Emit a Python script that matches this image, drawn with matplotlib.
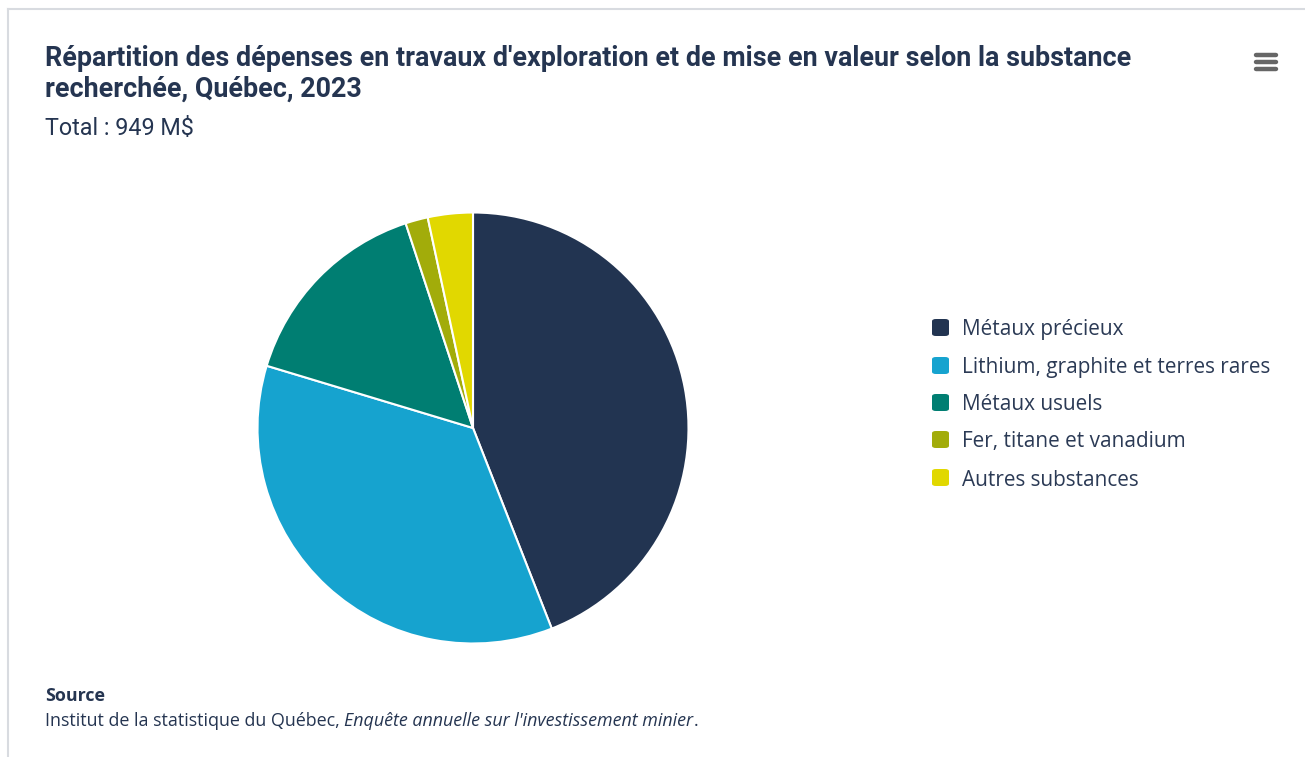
import matplotlib
matplotlib.use("Agg")
import matplotlib.pyplot as plt
from matplotlib.patches import FancyBboxPatch
from matplotlib.lines import Line2D

categories = ["Métaux précieux", "Lithium, graphite et terres rares", "Métaux usuels",
              "Fer, titane et vanadium", "Autres substances"]
values = [418, 338, 145, 16, 32]
colors = ["#223451", "#16a3cf", "#007e72", "#a2ac0a", "#e1d800"]

title_lines = ["Répartition des dépenses en travaux d'exploration et de mise en valeur selon la substance",
               "recherchée, Québec, 2023"]
subtitle = "Total : 949 M$"
source_head = "Source"

W, H = 1305, 757
fig = plt.figure(figsize=(W / 100, H / 100), dpi=100)
fig.patch.set_facecolor("white")

def fx(x):
    return x / W

def fy(y):
    return 1 - y / H

# frame border
fig.add_artist(Line2D([fx(8), fx(8)], [fy(9), 0], color="#d8dbe0", lw=1.5))
fig.add_artist(Line2D([fx(8), 1], [fy(9), fy(9)], color="#d8dbe0", lw=1.5))

# pie
cx, cy, r = 473, 428, 215.5
ax = fig.add_axes([fx(cx - r), fy(cy + r), fx(2 * r), (2 * r) / H])
ax.pie(values, colors=colors, startangle=90, counterclock=False,
       wedgeprops=dict(edgecolor="white", linewidth=1.5))
ax.set_xlim(-1, 1)
ax.set_ylim(-1, 1)
ax.set_aspect("equal")
ax.axis("off")

# titles
for line, yb in zip(title_lines, [66, 97]):
    fig.text(fx(45), fy(yb), line, fontfamily="Roboto", fontweight="bold", fontsize=19.4,
             color="#253551", va="baseline", ha="left")
fig.text(fx(45), fy(135), subtitle, fontfamily="Roboto", fontsize=16.8,
         color="#253551", va="baseline", ha="left")

# legend
rows_y = [328, 366, 403, 440, 478]
for cat, col, yy in zip(categories, colors, rows_y):
    box = FancyBboxPatch((fx(932), fy(yy + 8)), fx(17), 17 / H,
                         boxstyle="round,pad=0,rounding_size=0.003",
                         transform=fig.transFigure, facecolor=col, edgecolor="none")
    fig.add_artist(box)
    fig.text(fx(962), fy(yy + 2), cat, fontfamily="Open Sans", fontsize=14.95,
             color="#2b3a55", va="center", ha="left")

# menu icon
for yy in [55, 62, 69]:
    fig.add_artist(Line2D([fx(1256), fx(1276)], [fy(yy), fy(yy)], color="#666666",
                          lw=3.2, solid_capstyle="round"))

# source
fs = 12.9
fig.text(fx(45), fy(696), source_head, fontfamily="Open Sans", fontweight="bold",
         fontsize=fs, color="#253551", va="center", ha="left")
src = fig.text(fx(45), fy(721), "Institut de la statistique du Québec, ", fontfamily="Open Sans",
               fontsize=fs, color="#253551", va="center", ha="left")
fig.canvas.draw()
bb = src.get_window_extent()
it = fig.text(bb.x1 / W, fy(721), "Enquête annuelle sur l'investissement minier",
              fontfamily="Open Sans", fontstyle="italic", fontsize=fs, color="#253551",
              va="center", ha="left")
fig.canvas.draw()
bb2 = it.get_window_extent()
fig.text(bb2.x1 / W, fy(721), ".", fontfamily="Open Sans", fontsize=fs,
         color="#253551", va="center", ha="left")

fig.savefig("out.png", dpi=100)
